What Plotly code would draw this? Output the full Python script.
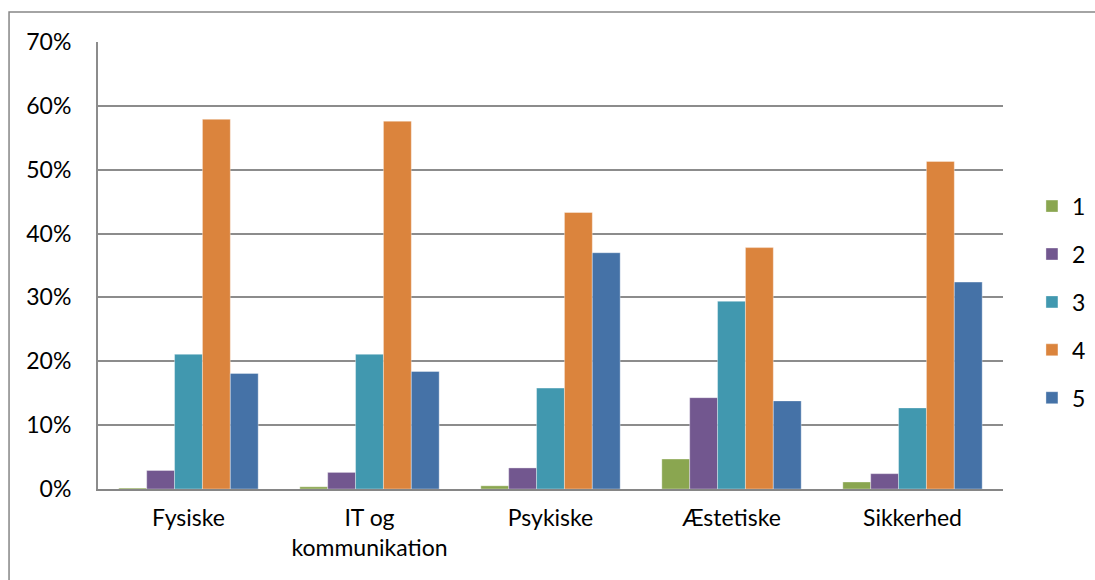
import plotly.graph_objects as go

categories = ["Fysiske", "IT og<br>kommunikation", "Psykiske", "Æstetiske", "Sikkerhed"]
series_names = ["1", "2", "3", "4", "5"]
s1 = [0.15, 0.35, 0.5, 4.7, 1.1]
s2 = [2.9, 2.6, 3.3, 14.3, 2.4]
s3 = [21.1, 21.1, 15.8, 29.4, 12.7]
s4 = [57.9, 57.6, 43.3, 37.8, 51.3]
s5 = [18.1, 18.4, 37.0, 13.8, 32.4]
series_values = [s1, s2, s3, s4, s5]
colors = ["#8AA650", "#72578F", "#4198AF", "#DB843D", "#4572A7"]
y_ticks = [0, 10, 20, 30, 40, 50, 60, 70]
y_tick_text = ["0%", "10%", "20%", "30%", "40%", "50%", "60%", "70%"]

FONT = "Lato"
FS = 23
fig = go.Figure()
for name, vals, col in zip(series_names, series_values, colors):
    fig.add_trace(go.Bar(
        x=categories, y=vals, name=name, legendgroup=name,
        marker=dict(color=col, line=dict(width=0.6, color="rgba(255,255,255,0.6)")),
    ))

fig.update_layout(
    width=1095, height=580,
    margin=dict(l=98, r=92, t=42, b=91, autoexpand=False),
    paper_bgcolor="white", plot_bgcolor="white",
    barmode="group", bargap=0.23, bargroupgap=0,
    font=dict(family=FONT, size=FS, color="#000000"),
    showlegend=True,
    legend=dict(x=1.032, y=0.418, xanchor="left", yanchor="middle",
                font=dict(family=FONT, size=FS), tracegroupgap=15,
                itemwidth=30, bgcolor="rgba(0,0,0,0)"),
    xaxis=dict(showgrid=False, showline=True, linecolor="#868686", linewidth=2,
               ticks="", ticklabelstandoff=7, tickfont=dict(family=FONT, size=FS)),
    yaxis=dict(range=[0, 70], tickvals=y_ticks, ticktext=y_tick_text,
               showgrid=True, gridcolor="#8C8C8C", gridwidth=2,
               showline=True, linecolor="#8C8C8C", linewidth=2,
               zeroline=False, ticks="", ticklabelstandoff=20,
               tickfont=dict(family=FONT, size=FS)),
    shapes=[dict(type="rect", xref="paper", yref="paper",
                 x0=-0.0983, x1=1.2, y0=-0.4, y1=1.067,
                 line=dict(color="#868686", width=1.5), layer="below")],
)

fig.write_html("out.html", config={"displayModeBar": False},
               post_script="document.body.style.margin='0';")
